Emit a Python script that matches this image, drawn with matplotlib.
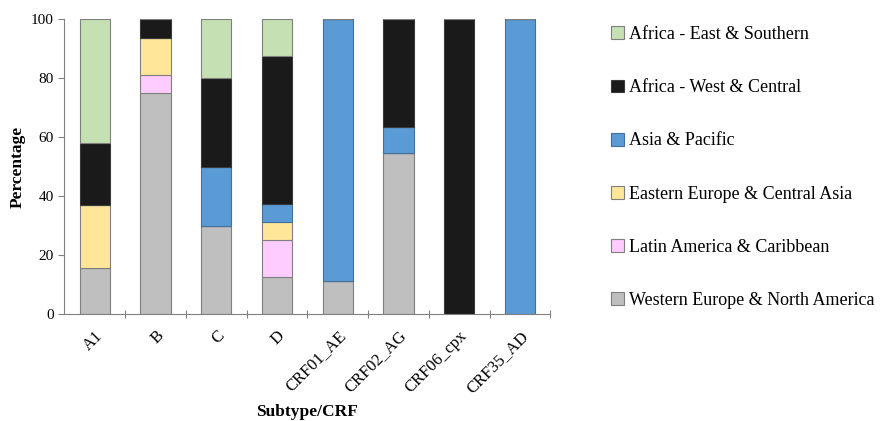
import numpy as np
import matplotlib.pyplot as plt
from matplotlib.patches import Patch

plt.rcParams['font.family'] = ['Liberation Serif', 'DejaVu Serif']

subtypes = ['A1', 'B', 'C', 'D', 'CRF01_AE', 'CRF02_AG', 'CRF06_cpx', 'CRF35_AD']

# percentage of sequences per region, stacked bottom to top
regions = ['Western Europe & North America', 'Latin America & Caribbean',
           'Eastern Europe & Central Asia', 'Asia & Pacific',
           'Africa - West & Central', 'Africa - East & Southern']
western_europe = [15.8, 75.0, 30.0, 12.5, 11.1, 54.5, 0, 0]
latin_america = [0, 6.25, 0, 12.5, 0, 0, 0, 0]
eastern_europe = [21.1, 12.5, 0, 6.25, 0, 0, 0, 0]
asia_pacific = [0, 0, 20.0, 6.25, 88.9, 9.1, 0, 100.0]
africa_west = [21.1, 6.25, 30.0, 50.0, 0, 36.4, 100.0, 0]
africa_east = [42.1, 0, 20.0, 12.5, 0, 0, 0, 0]

colors = ['#BFBFBF', '#FFCCFF', '#FFE699', '#5B9BD5', '#1A1A1A', '#C5E0B3']
edges = ['#7F7F7F', '#7F7F7F', '#7F7F7F', '#41719C', '#3A3A3A', '#7F7F7F']

fig = plt.figure(figsize=(8.82, 4.21), dpi=100)
ax = fig.add_axes([0.073, 0.254, 0.551, 0.70])

x = np.arange(len(subtypes))
bottom = np.zeros(len(subtypes))
series = [western_europe, latin_america, eastern_europe, asia_pacific, africa_west, africa_east]
for vals, c, ec in zip(series, colors, edges):
    vals = np.array(vals)
    ax.bar(x, vals, width=0.5, bottom=bottom, color=c, edgecolor=ec, linewidth=0.8)
    bottom += vals

ax.set_xlim(-0.5, len(subtypes) - 0.5)
ax.set_ylim(0, 100)
ax.set_yticks([0, 20, 40, 60, 80, 100])
ax.tick_params(axis='y', labelsize=11, length=4, color='#808080', width=0.8)

# category ticks sit between bars
ax.set_xticks(x)
ax.set_xticklabels(subtypes, rotation=45, ha='right', rotation_mode='anchor', fontsize=12)
ax.tick_params(axis='x', which='major', length=0, pad=10)
ax.set_xticks(np.arange(0.5, len(subtypes), 1), minor=True)
ax.tick_params(axis='x', which='minor', length=6, color='#808080', width=0.8, direction='inout')

for s in ['top', 'right']:
    ax.spines[s].set_visible(False)
for s in ['left', 'bottom']:
    ax.spines[s].set_color('#808080')
    ax.spines[s].set_linewidth(0.8)

ax.set_ylabel('Percentage', fontsize=12.5, fontweight='bold', labelpad=4)
ax.set_xlabel('Subtype/CRF', fontsize=12.5, fontweight='bold')
ax.xaxis.set_label_coords(0.5, -0.305)

handles = [Patch(facecolor=c, edgecolor=ec, linewidth=0.8, label=r)
           for r, c, ec in zip(regions, colors, edges)][::-1]
fig.legend(handles=handles, loc='upper left', bbox_to_anchor=(0.684, 0.955),
           frameon=False, fontsize=13, handlelength=0.72, handleheight=0.72,
           handletextpad=0.3, labelspacing=2.0, borderaxespad=0)

fig.savefig('out.png', dpi=100)
